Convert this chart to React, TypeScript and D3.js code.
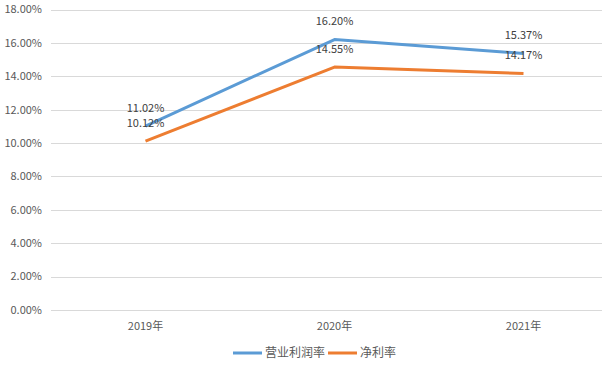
import React, { useEffect, useRef } from 'react';
import * as d3 from 'd3';

const years = ['2019年', '2020年', '2021年'];
const operatingMargin = [11.02, 16.2, 15.37];
const netMargin = [10.12, 14.55, 14.17];
const yTicks = [0, 2, 4, 6, 8, 10, 12, 14, 16, 18];
const seriesNames = ['营业利润率', '净利率'];
const colors = ['#5B9BD5', '#ED7D31'];

export default function App() {
  const ref = useRef<SVGSVGElement>(null);

  useEffect(() => {
    const svg = d3.select(ref.current);
    svg.selectAll('*').remove();
    const font = '"Noto Sans CJK SC", "DejaVu Sans", sans-serif';

    const x = d3.scaleBand().domain(years).range([51, 618]);
    const y = d3.scaleLinear().domain([0, 18]).range([310, 9.5]);

    const grid = svg.append('g');
    grid.selectAll('line')
      .data(yTicks)
      .join('line')
      .attr('x1', 51)
      .attr('x2', 602)
      .attr('y1', d => Math.round(y(d)) + 0.5)
      .attr('y2', d => Math.round(y(d)) + 0.5)
      .attr('stroke', '#D9D9D9')
      .attr('stroke-width', 1);

    grid.selectAll('text')
      .data(yTicks)
      .join('text')
      .attr('x', 42)
      .attr('y', d => y(d))
      .attr('dy', '0.35em')
      .attr('text-anchor', 'end')
      .attr('font-family', font)
      .attr('font-size', 11)
      .attr('fill', '#595959')
      .text(d => d.toFixed(2) + '%');

    svg.append('g').selectAll('text')
      .data(years)
      .join('text')
      .attr('x', d => x(d)! + x.bandwidth() / 2)
      .attr('y', 326)
      .attr('dy', '0.35em')
      .attr('text-anchor', 'middle')
      .attr('font-family', font)
      .attr('font-size', 11)
      .attr('fill', '#595959')
      .text(d => d);

    const series = [operatingMargin, netMargin];
    const line = d3.line<number>()
      .x((_, i) => x(years[i])! + x.bandwidth() / 2)
      .y(d => y(d));

    series.forEach((s, k) => {
      svg.append('path')
        .datum(s)
        .attr('d', line)
        .attr('fill', 'none')
        .attr('stroke', colors[k])
        .attr('stroke-width', 3)
        .attr('stroke-linejoin', 'round');
    });

    series.forEach(s => {
      svg.append('g').selectAll('text')
        .data(s)
        .join('text')
        .attr('x', (_, i) => x(years[i])! + x.bandwidth() / 2)
        .attr('y', d => y(d) - 18)
        .attr('dy', '0.35em')
        .attr('text-anchor', 'middle')
        .attr('font-family', font)
        .attr('font-size', 11)
        .attr('fill', '#404040')
        .text(d => d.toFixed(2) + '%');
    });

    const legend = svg.append('g');
    const items = [{ x: 233 }, { x: 328 }];
    items.forEach((it, k) => {
      legend.append('line')
        .attr('x1', it.x)
        .attr('x2', it.x + 29)
        .attr('y1', 353)
        .attr('y2', 353)
        .attr('stroke', colors[k])
        .attr('stroke-width', 3);
      legend.append('text')
        .attr('x', it.x + 32)
        .attr('y', 353)
        .attr('dy', '0.35em')
        .attr('font-family', font)
        .attr('font-size', 12)
        .attr('fill', '#595959')
        .text(seriesNames[k]);
    });
  }, []);

  return (
    <svg ref={ref} width={602} height={366}
      style={{ position: 'absolute', left: 0, top: 0, background: '#fff' }} />
  );
}
